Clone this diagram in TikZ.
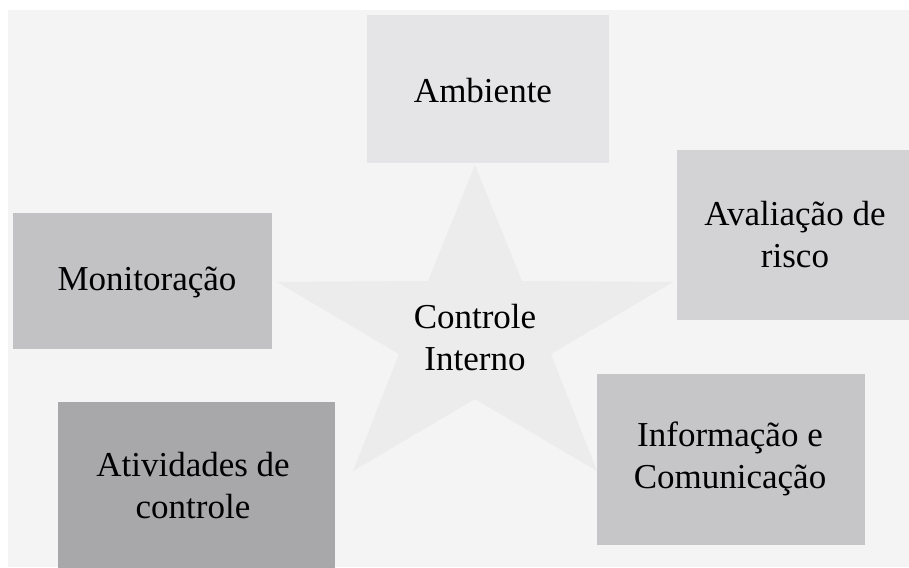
\documentclass[tikz,border=0pt]{standalone}
\usepackage{fontspec}
\setmainfont{Liberation Serif}
\definecolor{bgc}{HTML}{F4F4F4}
\definecolor{starc}{HTML}{ECECEC}
\definecolor{cAmb}{HTML}{E5E5E7}
\definecolor{cAva}{HTML}{D3D3D5}
\definecolor{cMon}{HTML}{C2C2C4}
\definecolor{cAti}{HTML}{A8A8AA}
\definecolor{cInf}{HTML}{C6C6C8}
\begin{document}
\begin{tikzpicture}[x=1pt,y=-1pt,
  box/.style={rectangle, draw=none, inner sep=0pt},
  lbl/.style={inner sep=0pt, align=center, font=\fontsize{35}{42}\selectfont, text=black}]
\useasboundingbox (0,0) rectangle (909,567);
\fill[white] (0,0) rectangle (909,567);
\fill[bgc] (8,10) rectangle (909,567);
% star
\fill[starc] (475,165) -- (522,281) -- (673,282) -- (551,354) -- (597,471)
  -- (475,399) -- (353,471) -- (399,354) -- (277,282) -- (428,281) -- cycle;
% boxes
\node[box, fill=cAmb, minimum width=242pt, minimum height=148pt] (amb) at (488,89) {};
\node[box, fill=cAva, minimum width=240pt, minimum height=170pt] (ava) at (797,235) {};
\node[box, fill=cMon, minimum width=259pt, minimum height=136pt] (mon) at (142.5,281) {};
\node[box, fill=cAti, minimum width=277pt, minimum height=170pt] (ati) at (196.5,487) {};
\node[box, fill=cInf, minimum width=268pt, minimum height=171pt] (inf) at (731,459.5) {};
% labels
\node[lbl] (ambt) at (483,91) {Ambiente};
\node[lbl] (avat) at (795,235) {Avaliação de\\risco};
\node[lbl] (mont) at (147,282) {Monitoração};
\node[lbl] (atit) at (193,486) {Atividades de\\controle};
\node[lbl] (inft) at (730,459) {Informação e\\Comunicação};
\node[lbl] (ci) at (475,338) {Controle\\Interno};
\end{tikzpicture}
\end{document}
